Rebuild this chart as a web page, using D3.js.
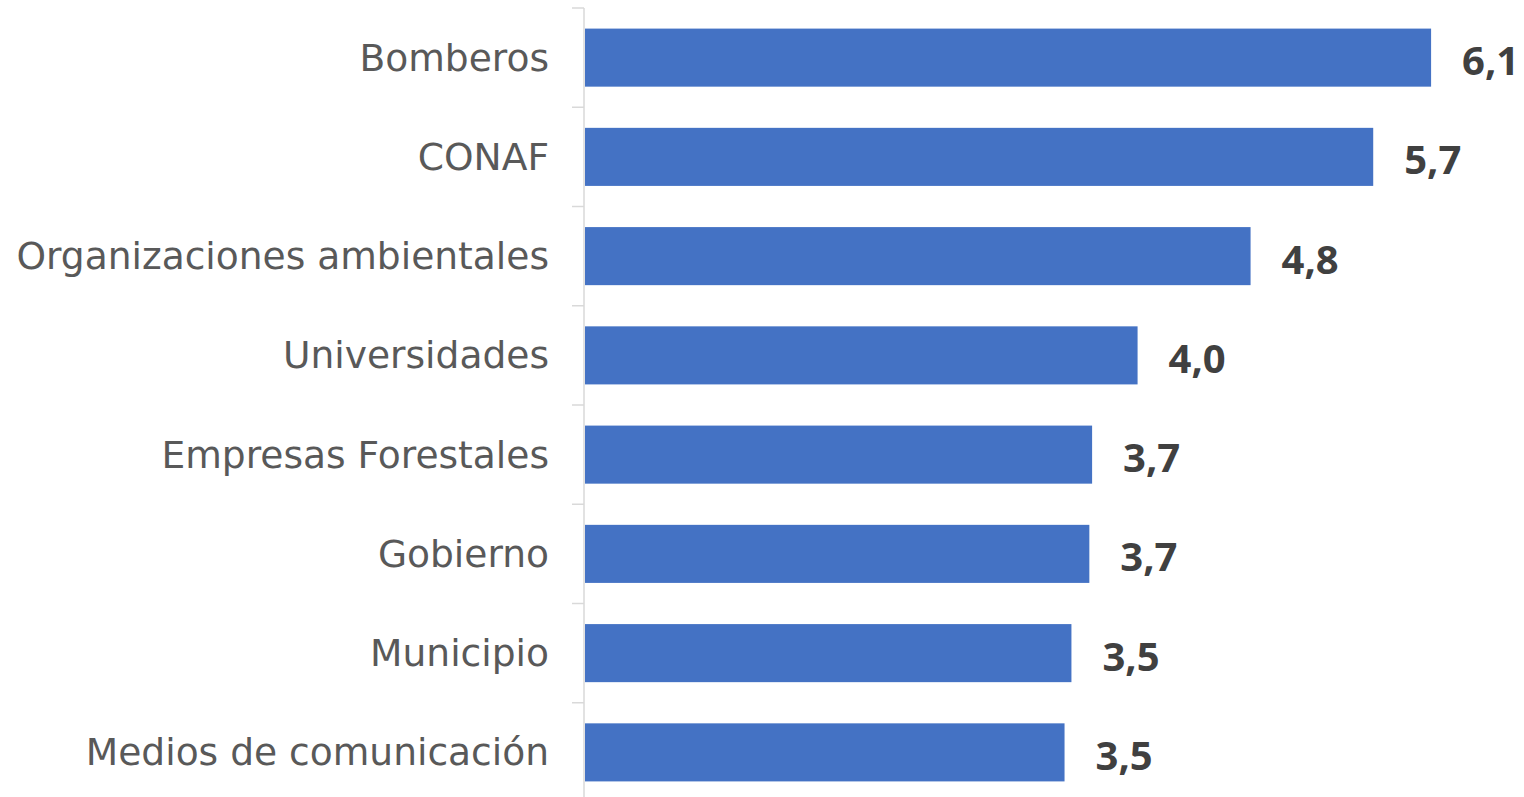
<!DOCTYPE html>
<html>
<head>
<meta charset="utf-8">
<script src="https://cdn.jsdelivr.net/npm/d3@7"></script>
<style>
  html, body { margin: 0; padding: 0; background: #fff; overflow: hidden; }
  svg { display: block; }
</style>
</head>
<body>
<svg id="chart"></svg>
<script>
"use strict";

// Categories (top to bottom) and their values
const categories = [
  'Bomberos',
  'CONAF',
  'Organizaciones ambientales',
  'Universidades',
  'Empresas Forestales',
  'Gobierno',
  'Municipio',
  'Medios de comunicación'
];
const values = [6.14, 5.72, 4.83, 4.01, 3.68, 3.66, 3.53, 3.48];

const width  = 1524;
const height = 797;

const svg = d3.select('#chart')
  .attr('width', width)
  .attr('height', height);

const x = d3.scaleLinear()
  .domain([0, 7])
  .range([585, 585 + 7 * 137.8]);

const y = d3.scaleBand()
  .domain(categories)
  .range([8, 802])
  .paddingInner(0.415)
  .paddingOuter(0.2075);

const axisX = 584;

// category axis line + ticks between bands
svg.append('line')
  .attr('x1', axisX).attr('x2', axisX)
  .attr('y1', y.range()[0]).attr('y2', height)
  .attr('stroke', '#d9d9d9').attr('stroke-width', 1.5);

const step = y.step();
svg.append('g').selectAll('line')
  .data(d3.range(categories.length + 1))
  .enter().append('line')
  .attr('x1', axisX - 12).attr('x2', axisX)
  .attr('y1', i => y.range()[0] + i * step)
  .attr('y2', i => y.range()[0] + i * step)
  .attr('stroke', '#d9d9d9').attr('stroke-width', 1.5);

// bars
svg.append('g').selectAll('rect')
  .data(values)
  .enter().append('rect')
  .attr('x', x(0))
  .attr('y', (d, i) => y(categories[i]))
  .attr('width', d => x(d) - x(0))
  .attr('height', y.bandwidth())
  .attr('fill', '#4472c4');

// category labels
svg.append('g').selectAll('text')
  .data(categories)
  .enter().append('text')
  .attr('x', 549)
  .attr('y', d => y(d) + y.bandwidth() / 2 + 13)
  .attr('text-anchor', 'end')
  .attr('font-family', "'DejaVu Sans', sans-serif")
  .attr('font-size', '37.6px')
  .attr('fill', '#595959')
  .text(d => d);

// value labels
const fmt = v => d3.format('.1f')(v).replace('.', ',');
svg.append('g').selectAll('text')
  .data(values)
  .enter().append('text')
  .attr('x', d => x(d) + 31)
  .attr('y', (d, i) => y(categories[i]) + y.bandwidth() / 2 + 17.5)
  .attr('font-family', "'Open Sans', sans-serif")
  .attr('font-weight', 700)
  .attr('font-size', '40px')
  .attr('fill', '#404040')
  .text(fmt);
</script>
</body>
</html>
